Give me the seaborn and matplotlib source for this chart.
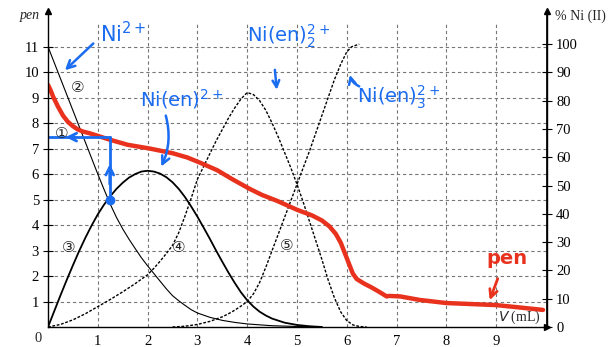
import matplotlib
matplotlib.use("Agg")
import matplotlib.pyplot as plt
import seaborn as sns
import pandas as pd

sns.set_theme(style="white")
plt.rcParams['font.family'] = ['Liberation Serif', 'DejaVu Serif']

# ---- data (pen units on left axis, V in mL) ----
v_ni = [0, 0.25, 0.5, 0.75, 1.0, 1.125, 1.25, 1.375, 1.5, 1.625, 1.75, 1.875, 2.0, 2.125, 2.25, 2.375,
        2.5, 2.625, 2.75, 2.875, 3.0, 3.25, 3.5, 3.75, 4.0, 4.5, 5.0, 5.5]
y_ni = [11.0, 9.75, 8.5, 7.25, 6.0, 5.4, 4.82, 4.3, 3.85, 3.45, 3.08, 2.72, 2.4, 2.1, 1.8, 1.5,
        1.23, 1.03, 0.85, 0.68, 0.55, 0.38, 0.26, 0.18, 0.12, 0.05, 0.02, 0.0]

v_en1 = [0, 0.125, 0.25, 0.375, 0.5, 0.625, 0.75, 0.875, 1.0, 1.125, 1.25, 1.375, 1.5, 1.625, 1.75, 1.875,
         2.0, 2.125, 2.25, 2.375, 2.5, 2.625, 2.75, 2.875, 3.0, 3.125, 3.25, 3.375, 3.5, 3.625, 3.75, 3.875,
         4.0, 4.125, 4.25, 4.375, 4.5, 4.75, 5.0, 5.25, 5.5]
y_en1 = [0, 0.62, 1.24, 1.84, 2.42, 2.98, 3.5, 3.98, 4.42, 4.8, 5.13, 5.42, 5.66, 5.86, 6.0, 6.1,
         6.13, 6.1, 6.02, 5.88, 5.68, 5.42, 5.1, 4.73, 4.33, 3.9, 3.46, 3.0, 2.56, 2.13, 1.73, 1.36,
         1.05, 0.8, 0.6, 0.45, 0.33, 0.17, 0.08, 0.03, 0.0]

v_en2 = [0, 0.25, 0.5, 0.75, 1.0, 1.25, 1.5, 1.75, 2.0, 2.125, 2.25, 2.375, 2.5, 2.625, 2.75, 2.875,
         3.0, 3.125, 3.25, 3.375, 3.5, 3.625, 3.75, 3.875, 4.0, 4.125, 4.25, 4.375, 4.5, 4.625, 4.75, 4.875,
         5.0, 5.125, 5.25, 5.375, 5.5, 5.625, 5.75, 5.875, 6.0, 6.125, 6.25, 6.4]
y_en2 = [0, 0.1, 0.28, 0.52, 0.8, 1.08, 1.38, 1.7, 2.05, 2.3, 2.58, 2.88, 3.2, 3.7, 4.35, 5.05,
         5.8, 6.3, 6.8, 7.3, 7.75, 8.2, 8.6, 8.95, 9.2, 9.12, 8.88, 8.5, 8.0, 7.45, 6.85, 6.25,
         5.6, 4.9, 4.15, 3.4, 2.65, 1.85, 1.15, 0.6, 0.25, 0.08, 0.02, 0.0]

v_en3 = [2.5, 2.75, 3.0, 3.25, 3.5, 3.625, 3.75, 3.875, 4.0, 4.125, 4.25, 4.375, 4.5, 4.625, 4.75, 4.875,
         5.0, 5.125, 5.25, 5.375, 5.5, 5.625, 5.75, 5.875, 6.0, 6.1, 6.25]
y_en3 = [0.0, 0.03, 0.1, 0.22, 0.4, 0.52, 0.66, 0.82, 1.0, 1.3, 1.75, 2.35, 3.0, 3.65, 4.3, 4.95,
         5.6, 6.25, 6.9, 7.6, 8.3, 9.0, 9.7, 10.3, 10.8, 11.0, 11.1]

v_pen = [0, 0.05, 0.1, 0.15, 0.2, 0.3, 0.4, 0.5, 0.6, 0.7, 0.84, 1.0, 1.24, 1.6, 2.05, 2.5, 2.8, 3.05,
         3.4, 3.7, 4.05, 4.3, 4.6, 5.0, 5.3, 5.5, 5.65, 5.78, 5.88, 5.96, 6.05, 6.12, 6.2, 6.35, 6.5,
         6.65, 6.8, 6.85, 7.07, 7.47, 8.0, 8.5, 9.0, 9.5, 9.94]
y_pen = [9.5, 9.3, 9.05, 8.85, 8.65, 8.3, 8.05, 7.88, 7.75, 7.67, 7.6, 7.5, 7.35, 7.15, 7.0, 6.82, 6.65, 6.45,
         6.15, 5.8, 5.42, 5.18, 4.95, 4.6, 4.38, 4.18, 3.95, 3.65, 3.3, 2.9, 2.45, 2.1, 1.88, 1.7, 1.55,
         1.38, 1.2, 1.22, 1.2, 1.06, 0.94, 0.9, 0.86, 0.76, 0.67]

x_ticks = [1, 2, 3, 4, 5, 6, 7, 8, 9]
pen_ticks = [1, 2, 3, 4, 5, 6, 7, 8, 9, 10, 11]
pct_ticks = [0, 10, 20, 30, 40, 50, 60, 70, 80, 90, 100]

guide_point = (1.24, 5.0)
guide_level = 7.45

# ---- figure ----
W, H = 6.12, 3.47
fig = plt.figure(figsize=(W, H), dpi=100)
ax = fig.add_axes([48/612, 1-327/347, (547-48)/612, (327-11)/347])
ymax = 12.4
ax.set_xlim(0, 10.02)
ax.set_ylim(0, ymax)

grid_kw = dict(color='#777777', lw=0.8, ls=(0, (3, 2.5)), zorder=0)
ax.vlines(x_ticks, 0, 11.9, **grid_kw)
ax.hlines(pen_ticks, 0, 10.02, **grid_kw)

def draw(v, y, **kw):
    df = pd.DataFrame({'V': v, 'y': y})
    sns.lineplot(data=df, x='V', y='y', ax=ax, estimator=None, sort=False, legend=False, **kw)

draw(v_ni, y_ni, color='black', lw=0.8)
draw(v_en1, y_en1, color='black', lw=1.3)
draw(v_en2, y_en2, color='black', lw=1.0, linestyle=(0, (2, 1.2)))
draw(v_en3, y_en3, color='black', lw=1.0, linestyle=(0, (2, 1.2)))
draw(v_pen, y_pen, color='#e8321e', lw=3.2, solid_capstyle='round', solid_joinstyle='round')

ax.set_xlabel('')
ax.set_ylabel('')
ax.spines['top'].set_visible(False)
for s in ['left', 'right', 'bottom']:
    ax.spines[s].set_color('black')
    ax.spines[s].set_linewidth(1.0)

ax.set_xticks(x_ticks)
ax.set_xticklabels([str(t) for t in x_ticks])
ax.set_yticks(pen_ticks)
ax.set_yticklabels([str(t) for t in pen_ticks])
ax.tick_params(axis='x', direction='out', length=3, width=0.8, labelsize=10.5, pad=3, colors='black')
ax.tick_params(axis='y', direction='inout', length=7, width=0.8, labelsize=10.5, pad=3, colors='black')

ax2 = ax.twinx()
ax2.set_ylim(0, ymax / 11.1 * 100)
ax2.set_yticks(pct_ticks)
ax2.set_yticklabels([str(t) for t in pct_ticks])
ax2.tick_params(axis='y', direction='inout', length=7, width=0.8, labelsize=10.5, pad=3, colors='black')
ax2.grid(False)
for s in ['top', 'left', 'bottom']:
    ax2.spines[s].set_visible(False)
ax2.spines['right'].set_color('black')

# axis arrows
ax.plot([0], [1], marker='^', color='black', ms=5, transform=ax.transAxes, clip_on=False)
ax.plot([1], [1], marker='^', color='black', ms=5, transform=ax.transAxes, clip_on=False)
ax.plot([1], [0], marker='>', color='black', ms=5, transform=ax.transAxes, clip_on=False)

fig.text(20/612, 1-16/347, 'pen', fontsize=10, style='italic', va='center', ha='left')
fig.text(555/612, 1-16/347, '% Ni (II)', fontsize=10, va='center', ha='left')
ax.text(9.9, 0.38, '$\\it{V}$ (mL)', fontsize=10, ha='right', va='center')
fig.text(38/612, 1-339/347, '0', fontsize=10.5, ha='center', va='center')

# circled labels
for lab, (x, y) in {'①': (0.28, 7.6), '②': (0.6, 9.4), '③': (0.42, 3.1), '④': (2.62, 3.1), '⑤': (4.8, 3.2)}.items():
    ax.text(x, y, lab, fontsize=11, ha='center', va='center', family=['DejaVu Sans'])

# hand annotations (blue)
blue = '#1a6cf0'
ax.plot([0, guide_point[0]], [guide_level, guide_level], color=blue, lw=2)
ax.plot([guide_point[0], guide_point[0]], [guide_point[1], guide_level], color=blue, lw=2)
ax.plot([guide_point[0]], [guide_point[1]], 'o', color=blue, ms=6)
ax.annotate('', xy=(0.3, guide_level), xytext=(0.6, guide_level),
            arrowprops=dict(arrowstyle='->', color=blue, lw=2, mutation_scale=14))
ax.annotate('', xy=(guide_point[0], 6.5), xytext=(guide_point[0], 5.5),
            arrowprops=dict(arrowstyle='->', color=blue, lw=2, mutation_scale=14))

ax.text(1.05, 11.5, 'Ni$^{2+}$', color=blue, fontsize=15, family='DejaVu Sans', ha='left', va='center')
ax.annotate('', xy=(0.3, 10.0), xytext=(0.95, 11.2),
            arrowprops=dict(arrowstyle='->', color=blue, lw=1.8, mutation_scale=14))
ax.text(1.85, 8.95, 'Ni(en)$^{2+}$', color=blue, fontsize=14, family='DejaVu Sans', ha='left', va='center')
ax.annotate('', xy=(2.25, 6.2), xytext=(2.35, 8.4),
            arrowprops=dict(arrowstyle='->', color=blue, lw=1.8, mutation_scale=14,
                            connectionstyle='arc3,rad=-0.2'))
ax.text(4.0, 11.4, 'Ni(en)$_2^{2+}$', color=blue, fontsize=14, family='DejaVu Sans', ha='left', va='center')
ax.annotate('', xy=(4.6, 9.2), xytext=(4.55, 10.2),
            arrowprops=dict(arrowstyle='->', color=blue, lw=1.8, mutation_scale=12))
ax.text(6.2, 9.0, 'Ni(en)$_3^{2+}$', color=blue, fontsize=14, family='DejaVu Sans', ha='left', va='center')
ax.annotate('', xy=(6.05, 10.0), xytext=(6.3, 9.4),
            arrowprops=dict(arrowstyle='->', color=blue, lw=1.8, mutation_scale=12,
                            connectionstyle='arc3,rad=-0.3'))

ax.text(8.8, 2.7, 'pen', color='#e8321e', fontsize=14, family='DejaVu Sans', weight='bold', ha='left', va='center')
ax.annotate('', xy=(8.85, 0.95), xytext=(9.05, 2.0),
            arrowprops=dict(arrowstyle='->', color='#e8321e', lw=2, mutation_scale=14))

fig.savefig('out.png', dpi=100)
